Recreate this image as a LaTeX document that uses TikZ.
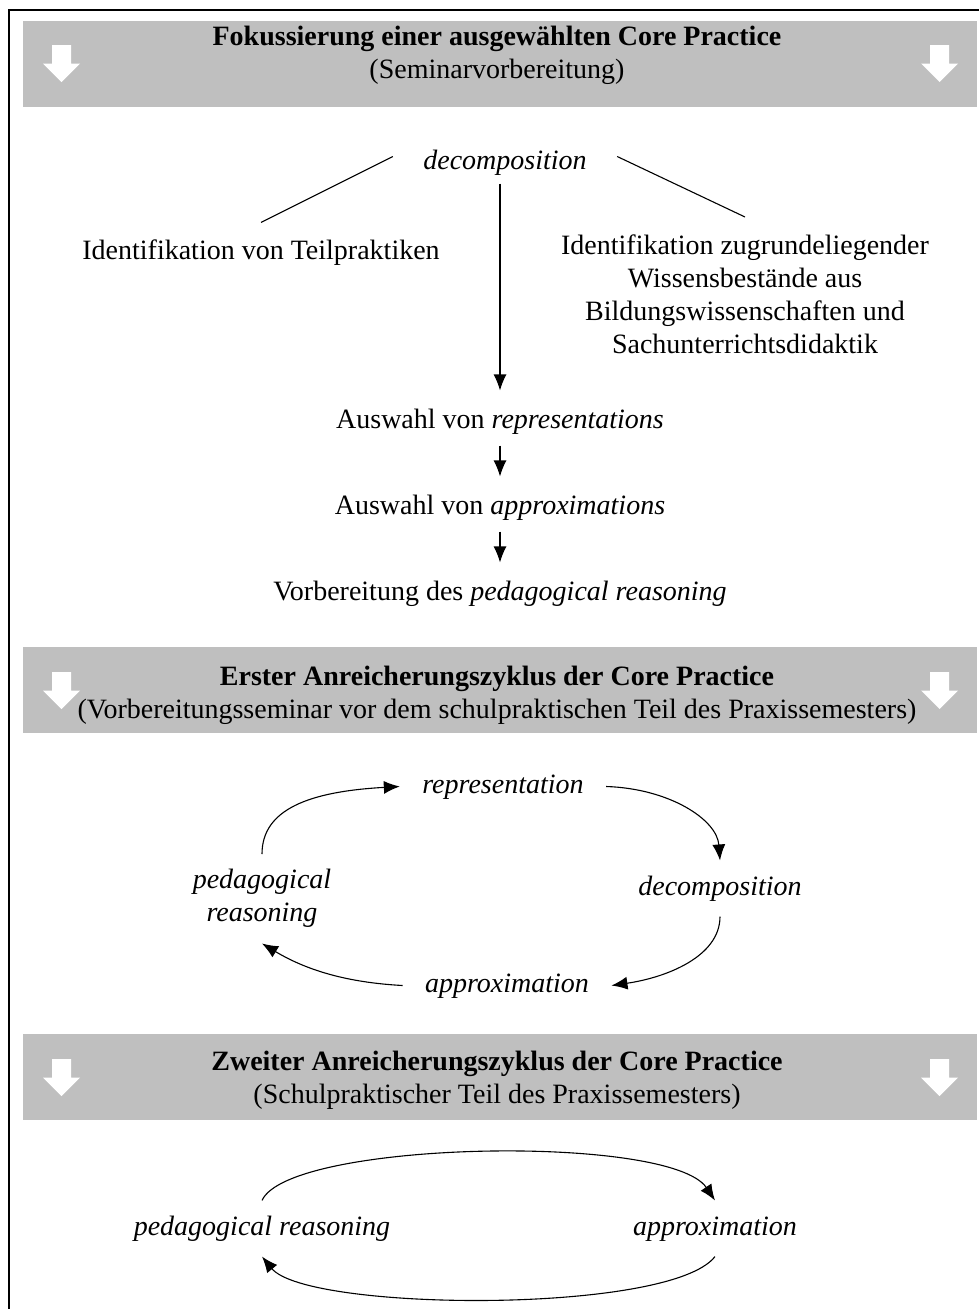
\documentclass[tikz,border=0pt]{standalone}
\usepackage{fontspec}
\setmainfont{Liberation Serif}
\usetikzlibrary{arrows.meta}
\definecolor{bandgray}{RGB}{191,191,191}
\tikzset{whitearrow/.pic={\fill[white] (-9.5,-18.5) -- (9.5,-18.5) -- (9.5,0) -- (18.5,0) -- (0,18.5) -- (-18.5,0) -- (-9.5,0) -- cycle;}}

\begin{document}
\begin{tikzpicture}[x=1pt,y=-1pt,>={Latex[length=16pt,width=13pt]},line width=1.1pt,
    every node/.style={font=\fontsize{28}{33}\selectfont},
    band/.style={fill=bandgray,minimum width=954pt,minimum height=86pt,inner sep=0pt},
    head/.style={anchor=base,inner sep=0pt},
    headb/.style={head,font=\fontsize{28}{33}\selectfont\bfseries},
    txt/.style={anchor=base,text height=19pt,text depth=6pt,inner xsep=0pt,inner ysep=11pt},
    term/.style={txt,font=\fontsize{28}{33}\selectfont\itshape},
    block/.style={align=center,inner ysep=17pt},
    cyc/.style={anchor=base,text height=19pt,text depth=6pt,inner xsep=22pt,inner ysep=15pt,font=\fontsize{28}{33}\selectfont\itshape},
    cycblock/.style={align=center,inner xsep=22pt,inner ysep=15pt,font=\fontsize{28}{33}\selectfont\itshape},
    flow/.style={->,shorten >=7pt}]
  \useasboundingbox (0,0) rectangle (979,1309);
  \draw[line width=1.5pt] (9,10) rectangle (1000,1330);
  \node[band] (band1) at (500,64) {};
  \node[band] (band2) at (500,690) {};
  \node[band] (band3) at (500,1076.5) {};
  \foreach \y in {63.5,690.5,1077.5} {
    \pic at (61.5,\y) {whitearrow};
    \pic at (939.5,\y) {whitearrow};
  }
  \node[headb] (fok) at (497,45) {Fokussierung einer ausgewählten Core Practice};
  \node[head] (sem) at (497,78) {(Seminarvorbereitung)};
  \node[headb] (erst) at (497,685) {Erster Anreicherungszyklus der Core Practice};
  \node[head] (vsem) at (497,718) {(Vorbereitungsseminar vor dem schulpraktischen Teil des Praxissemesters)};
  \node[headb] (zweit) at (497,1070) {Zweiter Anreicherungszyklus der Core Practice};
  \node[head] (spt) at (497,1103) {(Schulpraktischer Teil des Praxissemesters)};

  \node[term,inner xsep=30pt,inner ysep=8pt] (dec) at (505,169) {decomposition};
  \node[txt,inner ysep=17pt] (teil) at (261,259) {Identifikation von Teilpraktiken};
  \node[block,anchor=north] (wiss) at (745,217) {Identifikation zugrundeliegender\\Wissensbestände aus\\Bildungswissenschaften und\\Sachunterrichtsdidaktik};
  \node[txt] (ausw1) at (500,428) {Auswahl von \textit{representations}};
  \node[txt] (ausw2) at (500,514) {Auswahl von \textit{approximations}};
  \node[txt] (vorb) at (500,600) {Vorbereitung des \textit{pedagogical reasoning}};
  \draw ([yshift=6pt]dec.west) -- (teil.north);
  \draw ([yshift=6pt]dec.east) -- (wiss.north);
  \draw[flow] (dec.south -| ausw1.north) -- (ausw1.north);
  \draw[flow] (ausw1) -- (ausw2);
  \draw[flow] (ausw2) -- (vorb);

  \node[cyc] (rep) at (503,793) {representation};
  \node[cyc] (dec2) at (720,895) {decomposition};
  \node[cyc] (appr) at (507,992) {approximation};
  \node[cycblock,anchor=north] (ped) at (262,854) {pedagogical\\reasoning};
  \draw[->] (ped.north) .. controls +(0,-45) and +(-90,5) .. (rep.west);
  \draw[->] (rep.east) .. controls +(63,2) and +(-3,-41) .. (dec2.north);
  \draw[->] (dec2.south) .. controls +(0,40) and +(55,-8) .. (appr.east);
  \draw[->] (appr.west) .. controls +(-55,-3) and +(45,27) .. (ped.south);

  \node[cyc] (ped2) at (262,1235) {pedagogical reasoning};
  \node[cyc] (appr2) at (715,1235) {approximation};
  \draw[->] (ped2.north) .. controls +(27,-60) and +(-45,-67) .. (appr2.north);
  \draw[->] (appr2.south) .. controls +(-45,58) and +(45,55) .. (ped2.south);
\end{tikzpicture}
\end{document}
